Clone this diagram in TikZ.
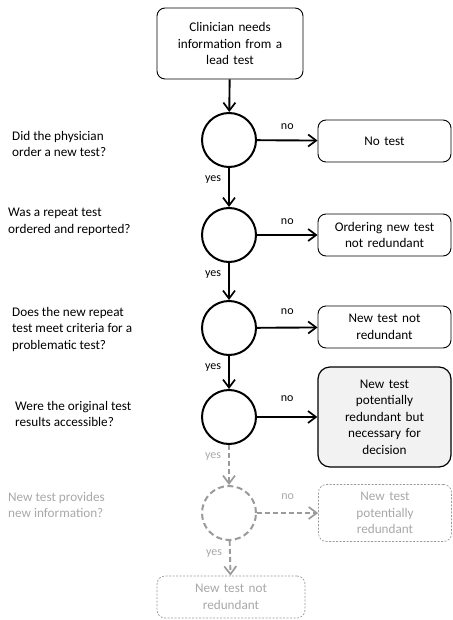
\documentclass[tikz,border=0pt]{standalone}
\usepackage{fontspec}
\setmainfont{Carlito}
\usetikzlibrary{arrows.meta}
\definecolor{fadedline}{HTML}{9A9A9A}
\definecolor{fadedtext}{HTML}{A8A8A8}
\definecolor{boxfill}{HTML}{F2F2F2}
\begin{document}
\begin{tikzpicture}[x=1pt,y=-1pt,
  every node/.style={font=\fontsize{13.2}{16.5}\selectfont, inner sep=0pt},
  outcome/.style={draw, rounded corners=8pt, line width=0.9pt, align=center,
    minimum width=133pt, minimum height=42pt, text width=122pt},
  decision/.style={draw, circle, line width=2pt, minimum size=54pt},
  fadeddecision/.style={decision, draw=fadedline, dash pattern=on 6pt off 3.5pt},
  fadedoutcome/.style={outcome, draw=fadedline, line width=0.7pt,
    dash pattern=on 2pt off 1.5pt, text=fadedtext},
  flow/.style={line width=1.9pt, -{Straight Barb[length=8pt,width=12pt,line width=1.7pt]}},
  fadedflow/.style={flow, draw=fadedline, dash pattern=on 5pt off 3pt},
  question/.style={anchor=west, align=left},
  answer/.style={font=\fontsize{12}{14}\selectfont}
]
\useasboundingbox (0,0) rectangle (452,620);

% start box
\node[outcome, minimum width=146pt, minimum height=71pt, text width=124pt] (start) at (230,43.5)
  {Clinician needs\\information from a\\lead test};

% decisions
\node[decision] (c1) at (229,140) {};
\node[decision] (c2) at (229,235) {};
\node[decision] (c3) at (229,328) {};
\node[decision] (c4) at (229,417) {};
\node[fadeddecision] (c5) at (229,513) {};

% outcomes
\node[outcome] (b1) at (384.5,141) {No test};
\node[outcome] (b2) at (384.5,235) {Ordering new test\\not redundant};
\node[outcome] (b3) at (384.5,327) {New test not\\redundant};
\node[outcome, fill=boxfill, line width=1.2pt, minimum height=100pt, rounded corners=12pt] (b4) at (384.5,417)
  {New test\\potentially\\redundant but\\necessary for\\decision};
\node[fadedoutcome, minimum height=57pt] (b5) at (385,513) {New test\\potentially\\redundant};
\node[fadedoutcome, minimum width=148pt] (b6) at (231,597) {New test not\\redundant};

% questions
\node[question] (q1) at (12,144) {Did the physician\\order a new test?};
\node[question] (q2) at (8,222) {Was a repeat test\\ordered and reported?};
\node[question] (q3) at (12,329) {Does the new repeat\\test meet criteria for a\\problematic test?};
\node[question] (q4) at (15,414) {Were the original test\\results accessible?};
\node[question, text=fadedtext] (q5) at (8,505) {New test provides\\new information?};

% main path
\draw[flow] (start) -- (c1);
\draw[flow] (c1) -- node[answer, pos=0.3, left=7pt] {yes} (c2);
\draw[flow] (c2) -- node[answer, pos=0.3, left=7pt] {yes} (c3);
\draw[flow] (c3) -- node[answer, pos=0.35, left=7pt] {yes} (c4);
\draw[fadedflow] (c4) -- node[answer, text=fadedtext, pos=0.3, left=7pt] {yes} (c5);
\draw[fadedflow] (c5) -- node[answer, text=fadedtext, pos=0.35, left=7pt] {yes} (b6);

% exits
\draw[flow] (c1) -- node[answer, above=10pt] {no} (b1);
\draw[flow] (c2) -- node[answer, above=9pt] {no} (b2);
\draw[flow] (c3) -- node[answer, above=12pt] {no} (b3);
\draw[flow] (c4) -- node[answer, above=14pt] {no} (b4);
\draw[fadedflow] (c5) -- node[answer, text=fadedtext, above=12pt] {no} (b5);
\end{tikzpicture}
\end{document}
